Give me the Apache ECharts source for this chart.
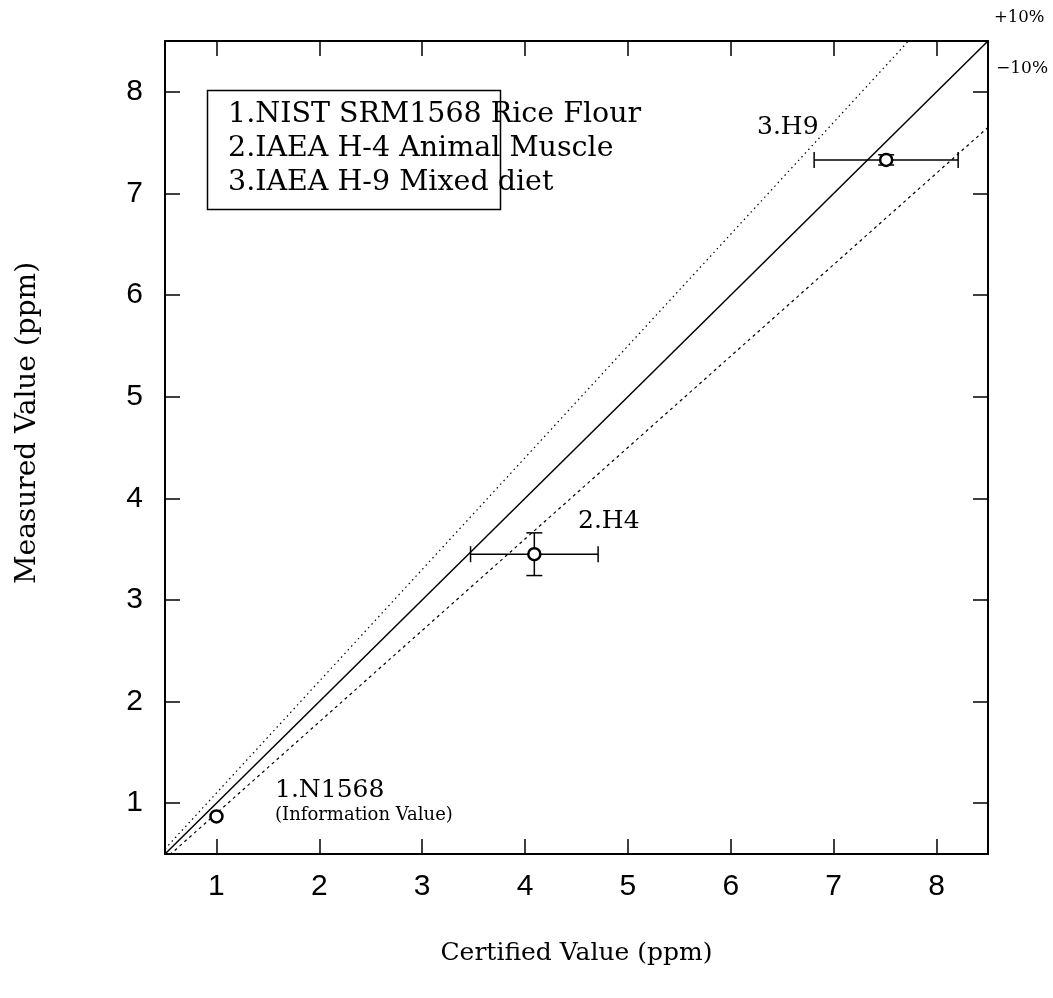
<!DOCTYPE html>
<html>
<head>
<meta charset="utf-8">
<script src="https://cdn.jsdelivr.net/npm/echarts@6/dist/echarts.min.js"></script>
<style>
  html, body { margin: 0; padding: 0; background: #fff; }
  #chart { width: 1053px; height: 998px; }
</style>
</head>
<body>
<div id="chart"></div>
<script>
// Reference materials: certified vs measured concentration (ppm)
const tickValues = [1, 2, 3, 4, 5, 6, 7, 8];
const sampleLabels = ['1.N1568', '2.H4', '3.H9'];
const certified = [1.0, 4.09, 7.51];
const certifiedErr = [0, 0.62, 0.70];
const measured = [0.87, 3.45, 7.33];
const measuredErr = [0, 0.21, 0.05];
const legendLines = ['1.NIST SRM1568 Rice Flour', '2.IAEA H-4 Animal Muscle', '3.IAEA H-9 Mixed diet'];
const bandRatios = [1.1, 1.0, 0.9];   // +10%, identity, -10%
const axisMin = 0.5;
const axisMax = 8.5;

const SERIF = '"DejaVu Serif", "Liberation Serif", serif';
const SANS = '"Liberation Sans", Arial, sans-serif';

const chart = echarts.init(document.getElementById('chart'), null, { renderer: 'canvas' });

const refLine = (ratio) => [[axisMin, axisMin * ratio], [axisMax, axisMax * ratio]];
const points = certified.map((x, i) => [x, measured[i], certifiedErr[i], measuredErr[i]]);

const baseAxis = {
  type: 'value',
  min: axisMin,
  max: axisMax,
  splitLine: { show: false },
  axisLine: { show: true, onZero: false, lineStyle: { color: '#000', width: 2 } },
  axisTick: { show: true, inside: true, length: 15, customValues: tickValues, lineStyle: { color: '#000', width: 1.5 } },
};

function errorBars(params, api) {
  const x = api.value(0), y = api.value(1), ex = api.value(2), ey = api.value(3);
  const style = { stroke: '#000', lineWidth: 1.5 };
  const kids = [];
  const cap = 8;
  if (ex > 0) {
    const a = api.coord([x - ex, y]), b = api.coord([x + ex, y]);
    kids.push({ type: 'line', shape: { x1: a[0], y1: a[1], x2: b[0], y2: b[1] }, style });
    kids.push({ type: 'line', shape: { x1: a[0], y1: a[1] - cap, x2: a[0], y2: a[1] + cap }, style });
    kids.push({ type: 'line', shape: { x1: b[0], y1: b[1] - cap, x2: b[0], y2: b[1] + cap }, style });
  }
  if (ey > 0) {
    const a = api.coord([x, y + ey]), b = api.coord([x, y - ey]);
    kids.push({ type: 'line', shape: { x1: a[0], y1: a[1], x2: b[0], y2: b[1] }, style });
    kids.push({ type: 'line', shape: { x1: a[0] - cap, y1: a[1], x2: a[0] + cap, y2: a[1] }, style });
    kids.push({ type: 'line', shape: { x1: b[0] - cap, y1: b[1], x2: b[0] + cap, y2: b[1] }, style });
  }
  return { type: 'group', children: kids };
}

const label = (text, x, y, size) => ({
  type: 'text', x, y,
  style: { text, font: size + 'px ' + SERIF, fill: '#000', align: 'left', verticalAlign: 'middle' }
});

const legendGraphics = [
  { type: 'rect', left: 205, top: 88, shape: { width: 293, height: 119 },
    style: { fill: 'none', stroke: '#000', lineWidth: 1.5 } },
  ...legendLines.map((t, i) => label(t, 228, 115 + i * 34, 28.5))
];

const annotations = [
  label(sampleLabels[0], 275, 790, 25),
  label('(Information Value)', 275, 815, 18),
  label(sampleLabels[1], 578, 521, 25),
  label(sampleLabels[2], 757, 127, 25),
  label('+10%', 994, 18, 16.5),
  label('\u221210%', 996, 69, 17),
  {
    type: 'text', x: 28, y: 423, rotation: Math.PI / 2,
    style: { text: 'Measured Value (ppm)', font: '28px ' + SERIF, fill: '#000', align: 'center', verticalAlign: 'middle' }
  }
];

chart.setOption({
  animation: false,
  backgroundColor: '#fff',
  grid: { left: 165, right: 65, top: 41, bottom: 144, containLabel: false },
  xAxis: [
    Object.assign({}, baseAxis, {
      position: 'bottom',
      name: 'Certified Value (ppm)',
      nameLocation: 'middle',
      nameGap: 87,
      nameTextStyle: { fontFamily: SERIF, fontSize: 25, color: '#000' },
      axisLabel: { show: true, customValues: tickValues, margin: 18, fontFamily: SANS, fontSize: 30, color: '#000' }
    }),
    Object.assign({}, baseAxis, { position: 'top', axisLabel: { show: false } })
  ],
  yAxis: [
    Object.assign({}, baseAxis, {
      position: 'left',
      axisLabel: { show: true, customValues: tickValues, margin: 22, fontFamily: SANS, fontSize: 30, color: '#000' }
    }),
    Object.assign({}, baseAxis, { position: 'right', axisLabel: { show: false } })
  ],
  series: [
    { type: 'line', data: refLine(bandRatios[0]), symbol: 'none', clip: true, silent: true,
      lineStyle: { color: '#000', width: 1.2, type: [1.5, 3.5] } },
    { type: 'line', data: refLine(bandRatios[1]), symbol: 'none', clip: true, silent: true,
      lineStyle: { color: '#000', width: 1.5, type: 'solid' } },
    { type: 'line', data: refLine(bandRatios[2]), symbol: 'none', clip: true, silent: true,
      lineStyle: { color: '#000', width: 1.2, type: [3, 3.5] } },
    { type: 'custom', data: points, renderItem: errorBars, z: 3, silent: true },
    { type: 'scatter', data: points.map(p => [p[0], p[1]]), symbol: 'circle', symbolSize: 12, z: 4,
      itemStyle: { color: '#fff', borderColor: '#000', borderWidth: 2.5, opacity: 1 } }
  ],
  graphic: legendGraphics.concat(annotations)
});
</script>
</body>
</html>
